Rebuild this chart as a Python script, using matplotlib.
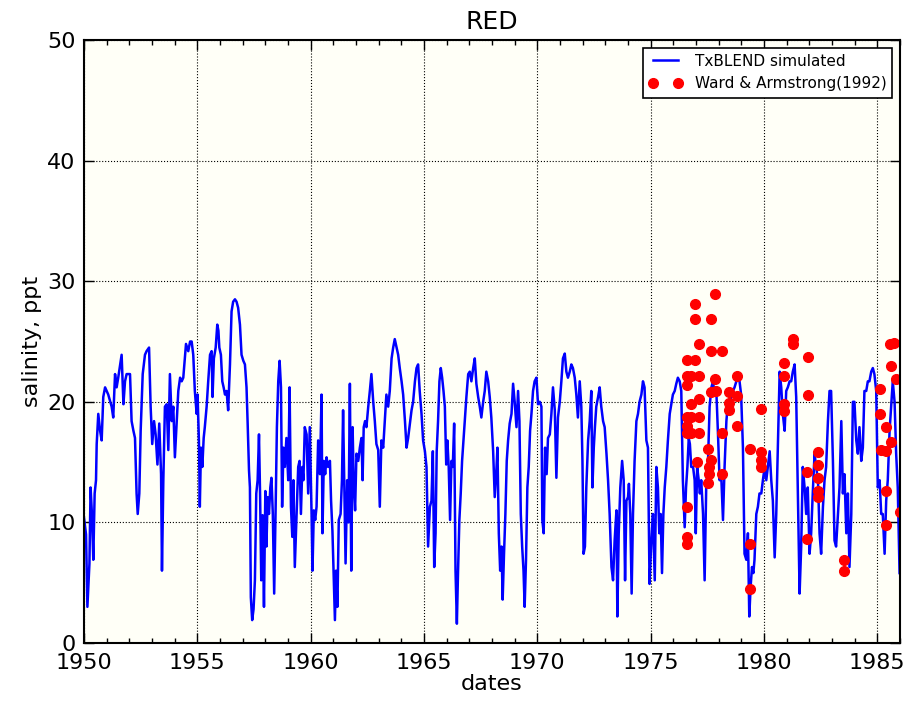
#imports matplotlib to draw the salinity record
import matplotlib
matplotlib.use("Agg")
import matplotlib.pyplot as plt
from matplotlib.ticker import MultipleLocator

# TxBLEND simulated salinity (decimal year, ppt)
sim_years = [
    1950.00, 1950.09, 1950.15, 1950.24, 1950.29, 1950.35, 1950.41, 1950.47, 1950.53, 1950.56,
    1950.63, 1950.71, 1950.78, 1950.85, 1950.93, 1951.07, 1951.22, 1951.29, 1951.37, 1951.44,
    1951.51, 1951.66, 1951.74, 1951.81, 1951.88, 1952.03, 1952.10, 1952.18, 1952.25, 1952.32,
    1952.37, 1952.44, 1952.50, 1952.59, 1952.69, 1952.76, 1952.87, 1952.94, 1953.01, 1953.09,
    1953.16, 1953.24, 1953.32, 1953.40, 1953.44, 1953.50, 1953.57, 1953.65, 1953.72, 1953.79,
    1953.87, 1953.94, 1954.01, 1954.09, 1954.16, 1954.24, 1954.31, 1954.38, 1954.50, 1954.60,
    1954.68, 1954.75, 1954.82,
    1954.89, 1954.97, 1955.01, 1955.07, 1955.11, 1955.16, 1955.22, 1955.28, 1955.33, 1955.41,
    1955.48, 1955.56, 1955.63, 1955.67, 1955.73, 1955.81, 1955.88, 1955.93, 1955.97, 1956.04,
    1956.10, 1956.16, 1956.22, 1956.29, 1956.36, 1956.44, 1956.51, 1956.58, 1956.66, 1956.73,
    1956.80, 1956.88, 1956.95, 1957.03, 1957.10, 1957.17, 1957.22, 1957.28, 1957.32, 1957.36,
    1957.42, 1957.48, 1957.54, 1957.60, 1957.66, 1957.72, 1957.77, 1957.82, 1957.88, 1957.94,
    1958.00, 1958.05, 1958.10, 1958.16, 1958.22, 1958.27, 1958.33, 1958.39, 1958.45, 1958.51,
    1958.57, 1958.63, 1958.69, 1958.74, 1958.80, 1958.86, 1958.93, 1959.01, 1959.07, 1959.13,
    1959.19, 1959.24, 1959.30, 1959.38, 1959.45, 1959.51, 1959.57, 1959.63, 1959.68, 1959.74,
    1959.82, 1959.89, 1959.96,
    1960.04, 1960.08, 1960.14, 1960.20, 1960.26, 1960.33, 1960.41, 1960.48, 1960.52, 1960.58,
    1960.64, 1960.70, 1960.77, 1960.85, 1960.90, 1960.96, 1961.02, 1961.07, 1961.12, 1961.18,
    1961.24, 1961.32, 1961.38, 1961.43, 1961.49, 1961.54, 1961.61, 1961.67, 1961.73, 1961.79,
    1961.85, 1961.90, 1961.96, 1962.02, 1962.10, 1962.17, 1962.24, 1962.29, 1962.34, 1962.40,
    1962.46, 1962.54, 1962.61, 1962.68, 1962.76, 1962.83, 1962.90, 1962.98, 1963.05, 1963.12,
    1963.20, 1963.27, 1963.34, 1963.42, 1963.49, 1963.57, 1963.64, 1963.71, 1963.79, 1963.86,
    1963.93, 1964.01, 1964.08, 1964.16, 1964.23, 1964.30, 1964.38, 1964.45, 1964.52, 1964.60,
    1964.67, 1964.74, 1964.81, 1964.89, 1964.96,
    1965.04, 1965.11, 1965.18, 1965.26, 1965.33, 1965.39, 1965.45, 1965.51, 1965.56, 1965.62,
    1965.68, 1965.74, 1965.80, 1965.86, 1965.92, 1965.98, 1966.03, 1966.09, 1966.15, 1966.21,
    1966.27, 1966.33, 1966.39, 1966.45, 1966.50, 1966.56, 1966.62, 1966.68, 1966.74, 1966.80,
    1966.87, 1966.95, 1967.02, 1967.09, 1967.17, 1967.24, 1967.31, 1967.39, 1967.46, 1967.53,
    1967.61, 1967.68, 1967.75, 1967.83, 1967.90, 1967.97, 1968.05, 1968.12, 1968.20, 1968.24,
    1968.30, 1968.36, 1968.42, 1968.47, 1968.53, 1968.59, 1968.65, 1968.71, 1968.78, 1968.86,
    1968.93, 1969.00, 1969.08, 1969.15, 1969.21, 1969.27, 1969.33, 1969.39, 1969.44, 1969.50,
    1969.56, 1969.62, 1969.68, 1969.74, 1969.81, 1969.88, 1969.96, 1970.03,
    1970.11, 1970.18, 1970.22, 1970.28, 1970.34, 1970.41, 1970.47, 1970.55, 1970.62, 1970.69,
    1970.77, 1970.84, 1970.91, 1970.99, 1971.06, 1971.13, 1971.21, 1971.28, 1971.35, 1971.43,
    1971.50, 1971.57, 1971.65, 1971.72, 1971.79, 1971.87, 1971.94, 1971.99, 1972.04, 1972.10,
    1972.16, 1972.24, 1972.31, 1972.38, 1972.43, 1972.49, 1972.54, 1972.60, 1972.68, 1972.75,
    1972.82, 1972.90, 1972.97, 1973.05, 1973.12, 1973.19, 1973.27, 1973.34, 1973.41, 1973.49,
    1973.53, 1973.59, 1973.66, 1973.74, 1973.81, 1973.87, 1973.93, 1974.00, 1974.04, 1974.10,
    1974.16, 1974.22, 1974.29, 1974.37, 1974.44, 1974.51, 1974.59, 1974.66, 1974.73, 1974.81,
    1974.88, 1974.95, 1975.03, 1975.10, 1975.18,
    1975.25, 1975.32, 1975.38, 1975.44, 1975.50, 1975.56, 1975.62, 1975.69, 1975.76, 1975.84,
    1975.91, 1975.98, 1976.06, 1976.13, 1976.20, 1976.28, 1976.35, 1976.42, 1976.50, 1976.56,
    1976.62, 1976.68, 1976.73, 1976.79, 1976.87, 1976.94, 1976.99, 1977.05, 1977.12, 1977.17,
    1977.23, 1977.31, 1977.38, 1977.45, 1977.53, 1977.60, 1977.68, 1977.75, 1977.82, 1977.89,
    1977.97, 1978.04, 1978.11, 1978.19, 1978.26, 1978.34, 1978.41, 1978.48, 1978.56, 1978.63,
    1978.70, 1978.78, 1978.85, 1978.92, 1978.99, 1979.07, 1979.14, 1979.22, 1979.29, 1979.35,
    1979.41, 1979.47, 1979.53, 1979.58, 1979.66, 1979.73, 1979.80, 1979.88, 1979.95, 1980.03,
    1980.10, 1980.17,
    1980.25, 1980.32, 1980.39, 1980.47, 1980.54, 1980.61, 1980.69, 1980.76, 1980.83, 1980.91,
    1980.98, 1981.05, 1981.13, 1981.20, 1981.27, 1981.35, 1981.42, 1981.49, 1981.57, 1981.64,
    1981.71, 1981.79, 1981.86, 1981.93, 1982.01, 1982.08, 1982.15, 1982.23, 1982.30, 1982.38,
    1982.45, 1982.52, 1982.60, 1982.67, 1982.74, 1982.82, 1982.89, 1982.96, 1983.04, 1983.11,
    1983.18, 1983.26, 1983.33, 1983.41, 1983.48, 1983.55, 1983.63, 1983.70, 1983.77, 1983.85,
    1983.92, 1983.99, 1984.07, 1984.14, 1984.21, 1984.29, 1984.36, 1984.43, 1984.51, 1984.58,
    1984.65, 1984.73, 1984.80, 1984.87, 1984.95, 1985.02, 1985.10, 1985.17, 1985.24, 1985.32,
    1985.39, 1985.46, 1985.54, 1985.61, 1985.68, 1985.76, 1985.83, 1985.90, 1985.98,
]
sim_salinity = [
    10.4, 9.0, 3.0, 6.6, 12.9, 10.7, 6.9, 12.4, 13.5, 16.5,
    19.0, 17.6, 16.8, 20.4, 21.2, 20.6, 19.6, 18.7, 22.3, 21.2,
    22.0, 23.9, 19.8, 21.7, 22.3, 22.3, 18.4, 17.6, 17.0, 12.4,
    10.7, 12.4, 17.6, 22.3, 23.9, 24.2, 24.5, 19.6, 16.5, 18.4,
    17.3, 14.8, 18.2, 14.0, 6.0, 13.5, 19.6, 19.8, 16.0, 22.3,
    18.4, 19.6, 15.4, 18.4, 20.9, 22.0, 21.7, 22.0, 24.8, 24.2,
    25.0, 25.0, 23.9,
    20.9, 19.0, 20.6, 16.8, 11.3, 16.2, 14.6, 17.0, 17.9, 19.6,
    21.7, 23.9, 24.2, 20.4, 23.6, 24.5, 26.4, 25.9, 24.5, 23.9,
    21.7, 21.2, 20.6, 20.9, 19.3, 23.1, 27.5, 28.3, 28.5, 28.3,
    27.8, 26.4, 23.9, 23.4, 23.1, 21.2, 18.2, 14.3, 12.9, 3.8,
    1.9, 2.8, 5.2, 12.4, 13.5, 17.3, 12.1, 5.2, 10.6, 3.0,
    12.6, 8.0, 12.1, 10.7, 12.9, 13.7, 10.7, 4.1, 10.7, 17.9,
    21.7, 23.4, 21.2, 11.3, 16.2, 14.6, 17.0, 13.5, 21.2, 11.3,
    8.8, 13.5, 6.3, 10.7, 14.6, 15.1, 10.7, 14.6, 13.5, 17.9,
    17.3, 12.4, 17.9,
    10.7, 6.0, 11.0, 10.2, 11.3, 16.8, 14.0, 20.6, 9.1, 15.1,
    14.0, 15.4, 14.6, 15.1, 11.8, 9.3, 5.2, 1.9, 6.0, 3.0,
    10.2, 10.7, 13.5, 19.3, 12.4, 6.6, 13.5, 10.0, 21.5, 6.0,
    17.9, 13.2, 11.0, 15.7, 15.1, 16.2, 17.0, 13.5, 17.9, 18.4,
    17.9, 19.6, 20.9, 22.3, 20.0, 18.4, 16.5, 16.0, 11.3, 16.8,
    16.2, 18.4, 20.6, 19.6, 20.9, 23.6, 24.5, 25.2, 24.5, 23.9,
    22.8, 21.7, 20.6, 18.4, 16.2, 17.0, 18.2, 19.3, 20.0, 21.7,
    22.8, 23.1, 20.9, 19.0, 16.8,
    15.9, 14.6, 8.0, 11.3, 11.8, 15.9, 6.3, 9.1, 15.9, 18.4,
    21.7, 22.8, 22.0, 20.9, 19.6, 14.8, 16.8, 14.6, 10.2, 15.1,
    14.6, 18.2, 6.0, 1.6, 5.8, 10.2, 12.4, 15.1, 16.8, 18.4,
    20.4, 22.3, 22.5, 21.7, 22.8, 23.6, 21.5, 20.4, 19.6, 18.7,
    20.0, 20.9, 22.5, 21.7, 20.4, 18.7, 15.9, 12.1, 14.6, 16.2,
    9.1, 6.0, 8.0, 3.6, 7.4, 10.7, 15.1, 16.8, 18.2, 19.0,
    21.5, 20.0, 17.9, 20.9, 18.4, 10.7, 8.0, 6.0, 3.0, 6.9,
    12.9, 14.6, 17.6, 19.0, 20.9, 21.7, 22.0, 19.8,
    20.0, 19.6, 10.2, 9.1, 16.2, 14.0, 17.0, 17.3, 19.0, 21.2,
    19.3, 13.7, 18.7, 20.0, 21.7, 23.6, 24.0, 22.5, 22.0, 22.5,
    23.1, 22.8, 22.0, 20.6, 18.7, 21.7, 19.6, 15.1, 7.4, 8.0,
    12.9, 16.8, 18.4, 20.9, 12.9, 16.2, 17.9, 19.6, 20.4, 21.2,
    19.6, 18.4, 17.9, 15.7, 13.5, 10.7, 6.3, 5.2, 8.5, 11.0,
    2.2, 9.1, 12.9, 15.1, 13.5, 5.2, 11.8, 12.1, 13.2, 10.7,
    4.1, 10.7, 15.1, 18.4, 19.0, 20.0, 20.6, 21.7, 21.2, 16.8,
    16.2, 4.9, 8.5, 10.7, 5.2,
    14.6, 12.9, 9.1, 10.7, 5.8, 10.7, 12.9, 14.6, 16.8, 19.0,
    19.8, 20.6, 20.9, 21.5, 22.0, 21.7, 20.9, 13.5, 9.6, 12.9,
    14.6, 17.0, 16.5, 14.6, 14.6, 13.5, 9.1, 14.6, 13.5, 12.4,
    13.5, 10.7, 5.2, 12.9, 15.1, 19.6, 21.2, 21.7, 20.6, 21.2,
    17.3, 13.5, 14.0, 10.2, 14.6, 18.4, 20.0, 19.6, 20.6, 20.9,
    21.2, 21.7, 22.0, 21.7, 20.6, 16.2, 7.4, 6.9, 9.1, 2.2,
    4.7, 6.3, 5.8, 6.9, 10.7, 11.3, 12.4, 12.4, 13.5, 14.6,
    13.5, 14.6,
    15.9, 13.5, 11.8, 7.1, 10.7, 16.2, 22.5, 21.2, 19.0, 17.6,
    20.9, 21.2, 21.7, 21.7, 22.5, 23.1, 20.4, 12.9, 4.1, 8.0,
    14.6, 12.9, 10.7, 12.9, 7.4, 9.1, 12.4, 15.7, 14.6, 13.5,
    9.1, 7.4, 11.3, 13.5, 14.6, 18.4, 20.9, 20.9, 15.1, 8.5,
    8.0, 10.7, 12.9, 18.4, 12.4, 14.0, 9.1, 12.4, 6.3, 10.7,
    20.0, 20.0, 16.8, 15.7, 17.9, 15.1, 16.2, 20.9, 20.9, 21.7,
    21.7, 22.5, 22.8, 22.3, 20.9, 12.9, 13.5, 10.7, 10.7, 7.4,
    11.8, 13.5, 17.6, 19.6, 21.7, 20.0, 15.7, 12.9, 5.8,
]

# Ward & Armstrong (1992) observations
obs_years = [
    1976.59, 1976.94, 1976.59, 1976.79, 1977.12, 1976.59, 1976.76, 1977.12, 1976.62, 1976.79,
    1977.12, 1976.59, 1976.62, 1976.79, 1977.12, 1977.06, 1976.94, 1976.94, 1977.12, 1977.85,
    1977.68, 1977.68, 1978.15, 1977.85, 1977.68, 1977.88, 1977.53, 1977.68, 1977.56, 1977.56,
    1977.53, 1978.15, 1978.15, 1978.47, 1978.47, 1978.47, 1978.79, 1978.79, 1978.79, 1976.59,
    1976.59, 1976.59, 1979.38, 1979.85, 1979.85, 1979.85, 1979.85, 1979.38, 1979.38,
    1980.86, 1980.86, 1980.86, 1980.86, 1981.30, 1981.30, 1981.94, 1981.94, 1982.38, 1982.38,
    1982.38, 1982.38, 1982.38, 1981.91, 1981.91, 1983.51, 1983.51, 1985.11, 1985.11, 1985.37,
    1985.59, 1985.15, 1985.40, 1985.37, 1985.37, 1985.54, 1985.72, 1985.59, 1985.83, 1986.00,
]
obs_salinity = [
    23.5, 23.5, 22.1, 22.1, 22.1, 21.4, 19.8, 20.2, 18.7, 18.7,
    18.7, 18.0, 17.4, 17.4, 17.4, 15.0, 28.1, 26.9, 24.8, 28.9,
    26.9, 24.2, 24.2, 21.9, 20.8, 20.9, 16.1, 15.2, 14.6, 14.0,
    13.3, 17.4, 14.0, 20.8, 19.9, 19.3, 22.1, 20.5, 18.0, 11.3,
    8.8, 8.2, 16.1, 19.4, 15.8, 15.2, 14.6, 8.2, 4.5,
    23.2, 22.1, 19.8, 19.2, 25.2, 24.8, 23.7, 20.6, 15.8, 14.8,
    13.7, 12.6, 12.1, 14.2, 8.6, 6.9, 6.0, 21.1, 19.0, 17.9,
    16.7, 16.0, 15.9, 12.6, 9.8, 24.8, 24.9, 23.0, 21.9, 10.9,
]

fig = plt.figure(figsize=(9.14, 7.07), dpi=100)
ax = fig.add_axes([0.0919, 0.0905, 0.8928, 0.8529])
ax.set_facecolor('#fffff7')

ax.plot(sim_years, sim_salinity, color='#0000ff', linewidth=1.8, label='TxBLEND simulated')
ax.plot(obs_years, obs_salinity, 'o', color='red', markeredgecolor='red', markersize=7,
        label='Ward & Armstrong(1992)')

ax.set_xlim(1950, 1986)
ax.set_ylim(0, 50)
ax.xaxis.set_major_locator(MultipleLocator(5))
ax.xaxis.set_minor_locator(MultipleLocator(1))
ax.yaxis.set_major_locator(MultipleLocator(10))
ax.tick_params(which='both', direction='in', top=True, right=True, labelsize=16)
ax.tick_params(axis='x', pad=7)
ax.tick_params(axis='y', pad=6)
ax.tick_params(which='major', length=7, width=1)
ax.tick_params(which='minor', length=3.5, width=1)
ax.grid(True, which='major', color='black', linestyle=':', linewidth=0.8)
for sp in ax.spines.values():
    sp.set_linewidth(1.5)

ax.set_title('RED', fontsize=18, pad=8)
ax.set_xlabel('dates', fontsize=16, labelpad=1)
ax.set_ylabel('salinity, ppt', fontsize=16, labelpad=4)

leg = ax.legend(loc='upper right', numpoints=2, fontsize=11, fancybox=False,
                framealpha=1, edgecolor='black', borderaxespad=0.5, handlelength=2.2)
leg.get_frame().set_linewidth(1.2)

fig.savefig('out.png', dpi=100)
